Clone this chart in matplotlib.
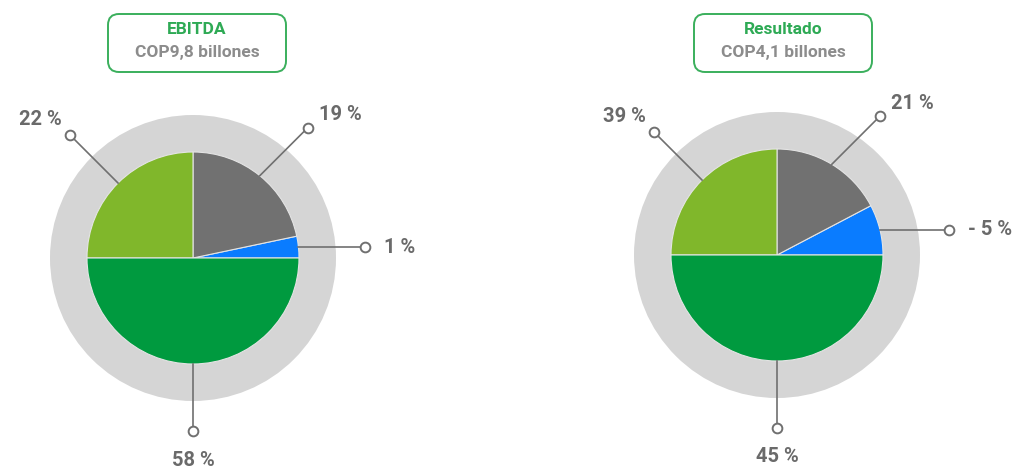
import numpy as np
import matplotlib.pyplot as plt
from matplotlib.patches import Circle, FancyBboxPatch

plt.rcParams['font.family'] = ['Roboto', 'DejaVu Sans']

# slice order: blue, grey, light green, green
slice_colors = ['#0a7cff', '#717171', '#80b72b', '#009a3f']
titles = ['EBITDA', 'Resultado']
subtitles = ['COP9,8 billones', 'COP4,1 billones']
# wedge shares as drawn in the picture (not proportional to the labels)
ebitda_drawn = [3.3, 21.7, 25.0, 50.0]
resultado_drawn = [7.7, 17.3, 25.0, 50.0]
ebitda_labels = ['1 %', '19 %', '22 %', '58 %']
resultado_labels = ['- 5 %', '21 %', '39 %', '45 %']

W, H = 1014, 468
fig = plt.figure(figsize=(W / 100, H / 100), dpi=100)
ax = fig.add_axes([0, 0, 1, 1])

line_c = '#707070'
text_c = '#6a6a6a'
title_c = '#2eaa55'
sub_c = '#8c8c8c'
R_PIE, R_RING = 106, 143

charts = [
    (193, 258, 197, ebitda_drawn, ebitda_labels),
    (777, 255, 783, resultado_drawn, resultado_labels),
]

for k, (cx, cy_img, bx, drawn, labels) in enumerate(charts):
    cy = H - cy_img
    ax.add_patch(Circle((cx, cy), R_RING, facecolor='#d5d5d5', edgecolor='none', zorder=0.5))
    ax.pie(drawn, colors=slice_colors, startangle=0, counterclock=True,
           center=(cx, cy), radius=R_PIE,
           wedgeprops=dict(edgecolor='#e4e4e4', linewidth=0.8))

    # leader lines
    cum = np.cumsum([0] + drawn)
    for i, lab in enumerate(labels):
        mid = np.deg2rad((cum[i] + cum[i + 1]) / 2 * 3.6)
        sx, sy = cx + R_PIE * np.cos(mid), cy + R_PIE * np.sin(mid)
        if i == 0:
            ex, ey = cx + 172, sy
            tx, ty, ha = ex + 19, ey, 'left'
        elif i == 1:
            ex, ey = sx + 48, sy + 48
            tx, ty, ha = ex + 11, ey + 13, 'left'
        elif i == 2:
            ex, ey = sx - 48, sy + 48
            tx, ty, ha = ex - 8, ey + 16, 'right'
        else:
            sx, sy = cx, cy - R_PIE
            ex, ey = cx, sy - 67
            tx, ty, ha = cx, ey - 29, 'center'
        ax.plot([sx, ex], [sy, ey], color=line_c, lw=1.2, zorder=3)
        ax.plot(ex, ey, 'o', ms=7, mfc='white', mec=line_c, mew=1.4, zorder=4)
        ax.text(tx, ty, lab, ha=ha, va='center', fontsize=14.5,
                fontweight='bold', color=text_c)

    # title box
    bw, bh = 178, 58
    ax.add_patch(FancyBboxPatch((bx - bw / 2, H - 72), bw, bh,
                                boxstyle='round,pad=0,rounding_size=11',
                                facecolor='white', edgecolor='#3aaf5c', lw=1.4))
    ax.text(bx, H - 29, titles[k], ha='center', va='center', fontsize=12.5,
            fontweight='bold', color=title_c)
    ax.text(bx, H - 53, subtitles[k], ha='center', va='center', fontsize=12.5,
            fontweight='bold', color=sub_c)

ax.set_xlim(0, W)
ax.set_ylim(0, H)
ax.set_aspect('equal')
ax.axis('off')

fig.savefig('out.png', dpi=100, facecolor='white')
